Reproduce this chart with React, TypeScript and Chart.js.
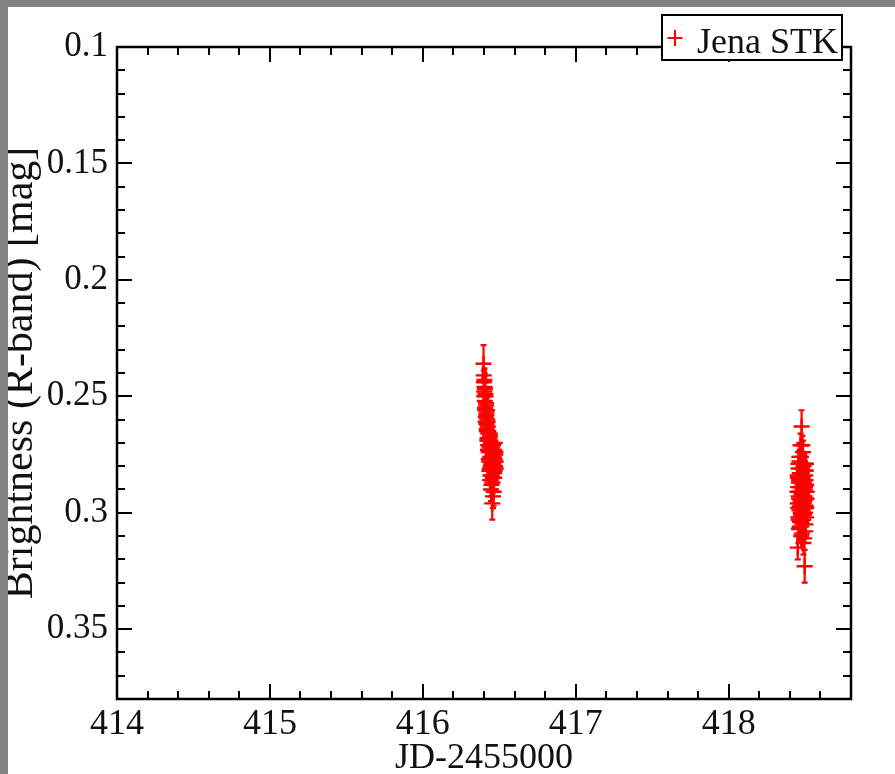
import { useEffect, useRef } from "react";
import { Chart, registerables } from "chart.js";

Chart.register(...registerables);

// ---- axis definitions ----
const X_TICKS = [414, 415, 416, 417, 418];
const X_TICK_LABELS = ["414", "415", "416", "417", "418"];
const Y_TICKS = [0.1, 0.15, 0.2, 0.25, 0.3, 0.35];
const Y_TICK_LABELS = ["0.1", "0.15", "0.2", "0.25", "0.3", "0.35"];
const X_MIN = 414;
const X_MAX = 418.8;
const X_MINOR_STEP = 0.2;
const Y_MIN = 0.1;
const Y_MAX = 0.38;
const Y_MINOR_STEP = 0.01;

const SERIES_LABEL = "Jena STK";
const X_TITLE = "JD-2455000";
const Y_TITLE = "Brightness (R-band) [mag]";

// ---- night 1 (JD-2455000 ~ 416.4) ----
const JD_NIGHT1 = [
  416.397, 416.399, 416.401, 416.403, 416.405, 416.406, 416.408, 416.41, 416.412, 416.414,
  416.416, 416.417, 416.419, 416.421, 416.423, 416.425, 416.427, 416.428, 416.43, 416.432,
  416.434, 416.436, 416.438, 416.439, 416.441, 416.443, 416.445, 416.447, 416.449, 416.45,
  416.452, 416.454, 416.456, 416.458, 416.46, 416.461, 416.463, 416.465, 416.467, 416.469,
  416.471, 416.472, 416.474, 416.476,
  416.398, 416.402, 416.404, 416.407, 416.409, 416.411, 416.413, 416.415, 416.418, 416.42,
  416.422, 416.424, 416.426, 416.429, 416.431, 416.433, 416.435, 416.437, 416.44, 416.442,
  416.444, 416.446, 416.448, 416.451, 416.453, 416.455, 416.457, 416.459, 416.462, 416.464,
  416.466, 416.468, 416.47, 416.473, 416.475, 416.477,
];
const MAG_NIGHT1 = [
  0.236, 0.244, 0.248, 0.243, 0.252, 0.247, 0.256, 0.25, 0.259, 0.254,
  0.262, 0.257, 0.265, 0.26, 0.268, 0.263, 0.271, 0.266, 0.274, 0.269,
  0.278, 0.272, 0.281, 0.267, 0.276, 0.284, 0.27, 0.279, 0.288, 0.273,
  0.282, 0.296, 0.275, 0.285, 0.271, 0.279, 0.291, 0.274, 0.283, 0.277,
  0.27, 0.28, 0.275, 0.278,
  0.241, 0.25, 0.246, 0.255, 0.249, 0.261, 0.253, 0.258, 0.264, 0.256,
  0.269, 0.261, 0.273, 0.265, 0.277, 0.268, 0.282, 0.271, 0.286, 0.274,
  0.28, 0.29, 0.276, 0.284, 0.272, 0.287, 0.279, 0.293, 0.281, 0.276,
  0.285, 0.273, 0.282, 0.278, 0.274, 0.281,
];
const ERR_NIGHT1 = [
  0.008, 0.005, 0.006, 0.005, 0.004, 0.006, 0.005, 0.004, 0.006, 0.005,
  0.005, 0.006, 0.004, 0.005, 0.006, 0.005, 0.004, 0.006, 0.005, 0.005,
  0.006, 0.004, 0.005, 0.006, 0.005, 0.004, 0.006, 0.005, 0.005, 0.006,
  0.004, 0.007, 0.005, 0.006, 0.005, 0.004, 0.006, 0.005, 0.005, 0.006,
  0.004, 0.005, 0.006, 0.005,
  0.005, 0.004, 0.006, 0.005, 0.005, 0.004, 0.006, 0.005, 0.004, 0.006,
  0.005, 0.005, 0.004, 0.006, 0.005, 0.005, 0.006, 0.004, 0.005, 0.006,
  0.004, 0.005, 0.006, 0.005, 0.004, 0.005, 0.006, 0.005, 0.004, 0.006,
  0.005, 0.005, 0.004, 0.006, 0.005, 0.005,
];

// ---- night 2 (JD-2455000 ~ 418.48) ----
const JD_NIGHT2 = [
  418.45, 418.452, 418.453, 418.455, 418.456, 418.458, 418.459, 418.461, 418.462, 418.464,
  418.465, 418.467, 418.468, 418.47, 418.471, 418.473, 418.474, 418.476, 418.477, 418.479,
  418.48, 418.482, 418.483, 418.485, 418.486, 418.488, 418.489, 418.491, 418.492, 418.494,
  418.495, 418.497, 418.498, 418.5, 418.501, 418.503, 418.504, 418.506, 418.507, 418.509,
  418.451, 418.452, 418.454, 418.455, 418.457, 418.458, 418.46, 418.461, 418.463, 418.464,
  418.466, 418.467, 418.469, 418.47, 418.472, 418.473, 418.475, 418.476, 418.478, 418.479,
  418.481, 418.482, 418.484, 418.485, 418.487, 418.488, 418.49, 418.491, 418.493, 418.494,
  418.496, 418.497, 418.499, 418.5, 418.502, 418.503, 418.505, 418.506, 418.508, 418.51,
];
const MAG_NIGHT2 = [
  0.291, 0.315, 0.285, 0.298, 0.279, 0.303, 0.287, 0.294, 0.276, 0.306,
  0.283, 0.297, 0.289, 0.271, 0.3, 0.284, 0.31, 0.292, 0.263, 0.296,
  0.281, 0.305, 0.288, 0.299, 0.274, 0.293, 0.313, 0.286, 0.301, 0.279,
  0.295, 0.323, 0.29, 0.284, 0.308, 0.297, 0.282, 0.302, 0.288, 0.294,
  0.284, 0.296, 0.289, 0.302, 0.281, 0.293, 0.307, 0.286, 0.299, 0.278,
  0.291, 0.304, 0.287, 0.295, 0.276, 0.301, 0.289, 0.297, 0.283, 0.309,
  0.292, 0.271, 0.298, 0.285, 0.303, 0.29, 0.28, 0.296, 0.287, 0.311,
  0.293, 0.282, 0.3, 0.289, 0.305, 0.286, 0.294, 0.279, 0.298, 0.291,
];
const ERR_NIGHT2 = [
  0.005, 0.005, 0.006, 0.004, 0.005, 0.006, 0.005, 0.004, 0.006, 0.005,
  0.005, 0.006, 0.004, 0.005, 0.006, 0.005, 0.005, 0.004, 0.007, 0.006,
  0.005, 0.004, 0.006, 0.005, 0.005, 0.006, 0.005, 0.004, 0.006, 0.005,
  0.005, 0.007, 0.004, 0.006, 0.005, 0.005, 0.006, 0.004, 0.005, 0.006,
  0.005, 0.006, 0.004, 0.005, 0.005, 0.006, 0.005, 0.004, 0.006, 0.005,
  0.004, 0.005, 0.006, 0.005, 0.005, 0.004, 0.006, 0.005, 0.005, 0.006,
  0.005, 0.004, 0.006, 0.005, 0.005, 0.006, 0.004, 0.005, 0.006, 0.005,
  0.005, 0.004, 0.006, 0.005, 0.006, 0.005, 0.004, 0.005, 0.006, 0.005,
];

const RED = "#ff0000";
const INK = "#111111";
const FONT = "'Liberation Serif', 'Times New Roman', serif";

function minorValues(min: number, max: number, step: number, majors: number[]) {
  const out: number[] = [];
  const n = Math.round((max - min) / step);
  for (let i = 0; i <= n; i++) {
    const v = +(min + i * step).toFixed(6);
    if (!majors.some((m) => Math.abs(m - v) < step / 10)) out.push(v);
  }
  return out;
}

const errorBarsPlugin = {
  id: "errorBars",
  beforeDatasetsDraw(chart: any) {
    const { ctx, scales } = chart;
    const xs = scales.x;
    const ys = scales.y;
    ctx.save();
    ctx.beginPath();
    ctx.rect(chart.chartArea.left, chart.chartArea.top, chart.chartArea.width, chart.chartArea.height);
    ctx.clip();
    chart.data.datasets.forEach((ds: any) => {
      ctx.strokeStyle = ds.borderColor;
      ctx.lineWidth = 2.2;
      ctx.beginPath();
      ds.data.forEach((p: any, i: number) => {
        const e = ds.errors[i];
        const px = xs.getPixelForValue(p.x);
        const y1 = ys.getPixelForValue(p.y - e);
        const y2 = ys.getPixelForValue(p.y + e);
        ctx.moveTo(px, y1);
        ctx.lineTo(px, y2);
        ctx.moveTo(px - 3, y1);
        ctx.lineTo(px + 3, y1);
        ctx.moveTo(px - 3, y2);
        ctx.lineTo(px + 3, y2);
      });
      ctx.stroke();
    });
    ctx.restore();
  },
};

const frameTicksPlugin = {
  id: "frameTicks",
  afterDatasetsDraw(chart: any) {
    const { ctx, chartArea: a, scales } = chart;
    const xs = scales.x;
    const ys = scales.y;
    const MAJOR = 15;
    const MINOR = 8;
    ctx.save();
    ctx.strokeStyle = "#000";
    ctx.lineWidth = 2;
    ctx.beginPath();
    const xMinor = minorValues(X_MIN, X_MAX, X_MINOR_STEP, X_TICKS);
    const yMinor = minorValues(Y_MIN, Y_MAX, Y_MINOR_STEP, Y_TICKS);
    const xTick = (v: number, len: number) => {
      const px = Math.round(xs.getPixelForValue(v));
      ctx.moveTo(px, a.bottom);
      ctx.lineTo(px, a.bottom - len);
      ctx.moveTo(px, a.top);
      ctx.lineTo(px, a.top + len);
    };
    const yTick = (v: number, len: number) => {
      const py = Math.round(ys.getPixelForValue(v));
      ctx.moveTo(a.left, py);
      ctx.lineTo(a.left + len, py);
      ctx.moveTo(a.right, py);
      ctx.lineTo(a.right - len, py);
    };
    X_TICKS.forEach((v) => xTick(v, MAJOR));
    xMinor.forEach((v) => xTick(v, MINOR));
    Y_TICKS.forEach((v) => yTick(v, MAJOR));
    yMinor.forEach((v) => yTick(v, MINOR));
    ctx.stroke();
    ctx.lineWidth = 2.5;
    ctx.strokeRect(a.left, a.top, a.right - a.left, a.bottom - a.top);

    // legend box
    const bw = 180;
    const bh = 45;
    const bx = a.right - 9 - bw;
    const by = a.top - 32;
    ctx.fillStyle = "#fff";
    ctx.fillRect(bx, by, bw, bh);
    ctx.lineWidth = 2;
    ctx.strokeStyle = "#000";
    ctx.strokeRect(bx, by, bw, bh);
    const cx = bx + 13;
    const cy = by + 23;
    ctx.strokeStyle = RED;
    ctx.beginPath();
    ctx.moveTo(cx - 7.5, cy);
    ctx.lineTo(cx + 7.5, cy);
    ctx.moveTo(cx, cy - 8);
    ctx.lineTo(cx, cy + 8);
    ctx.stroke();
    ctx.fillStyle = INK;
    ctx.font = `36px ${FONT}`;
    ctx.textBaseline = "alphabetic";
    ctx.textAlign = "left";
    ctx.fillText(SERIES_LABEL, bx + 35, by + 38);
    ctx.restore();
  },
};

export default function App() {
  const canvasRef = useRef<HTMLCanvasElement | null>(null);

  useEffect(() => {
    document.documentElement.style.overflow = "hidden";
    document.body.style.overflow = "hidden";
    document.body.style.margin = "7px 0 0 8px";
    document.body.style.background = "#838383";

    const points = [
      ...JD_NIGHT1.map((x, i) => ({ x, y: MAG_NIGHT1[i] })),
      ...JD_NIGHT2.map((x, i) => ({ x, y: MAG_NIGHT2[i] })),
    ];
    const errors = [...ERR_NIGHT1, ...ERR_NIGHT2];

    const chart = new Chart(canvasRef.current as HTMLCanvasElement, {
      type: "scatter",
      data: {
        datasets: [
          {
            label: SERIES_LABEL,
            data: points,
            errors,
            showLine: false,
            pointStyle: "cross",
            pointRadius: 8,
            pointHoverRadius: 8,
            borderWidth: 2.4,
            borderColor: RED,
            backgroundColor: RED,
          } as any,
        ],
      },
      options: {
        animation: false,
        responsive: false,
        events: [],
        layout: { padding: { top: 40, right: 44, left: 0, bottom: 0 } },
        plugins: {
          legend: { display: false },
          tooltip: { enabled: false },
        },
        scales: {
          x: {
            type: "linear",
            min: X_MIN,
            max: X_MAX,
            afterBuildTicks: (s: any) => {
              s.ticks = X_TICKS.map((v) => ({ value: v }));
            },
            afterFit: (s: any) => {
              s.height = 75;
            },
            grid: { display: false, drawTicks: false },
            border: { display: false },
            ticks: {
              autoSkip: false,
              maxRotation: 0,
              minRotation: 0,
              padding: 8,
              color: INK,
              font: { family: FONT, size: 36, lineHeight: 1 },
              callback: (_v: any, i: number) => X_TICK_LABELS[i],
            },
            title: {
              display: true,
              text: X_TITLE,
              color: INK,
              font: { family: FONT, size: 36, lineHeight: 0.84 },
              padding: 0,
            },
          },
          y: {
            type: "linear",
            reverse: true,
            min: Y_MIN,
            max: Y_MAX,
            afterBuildTicks: (s: any) => {
              s.ticks = Y_TICKS.map((v) => ({ value: v }));
            },
            afterFit: (s: any) => {
              s.width = 109;
            },
            grid: { display: false, drawTicks: false },
            border: { display: false },
            ticks: {
              autoSkip: false,
              padding: 9,
              color: INK,
              font: { family: FONT, size: 35, lineHeight: 1 },
              callback: (_v: any, i: number) => Y_TICK_LABELS[i],
            },
            title: {
              display: true,
              text: Y_TITLE,
              color: INK,
              font: { family: FONT, size: 42, lineHeight: 0.6 },
              padding: 0,
            },
          },
        },
      } as any,
      plugins: [errorBarsPlugin, frameTicksPlugin],
    });
    return () => chart.destroy();
  }, []);

  return (
    <div style={{ width: 887, height: 767, background: "#fff" }}>
      <canvas ref={canvasRef} width={887} height={767} style={{ display: "block" }} />
    </div>
  );
}
